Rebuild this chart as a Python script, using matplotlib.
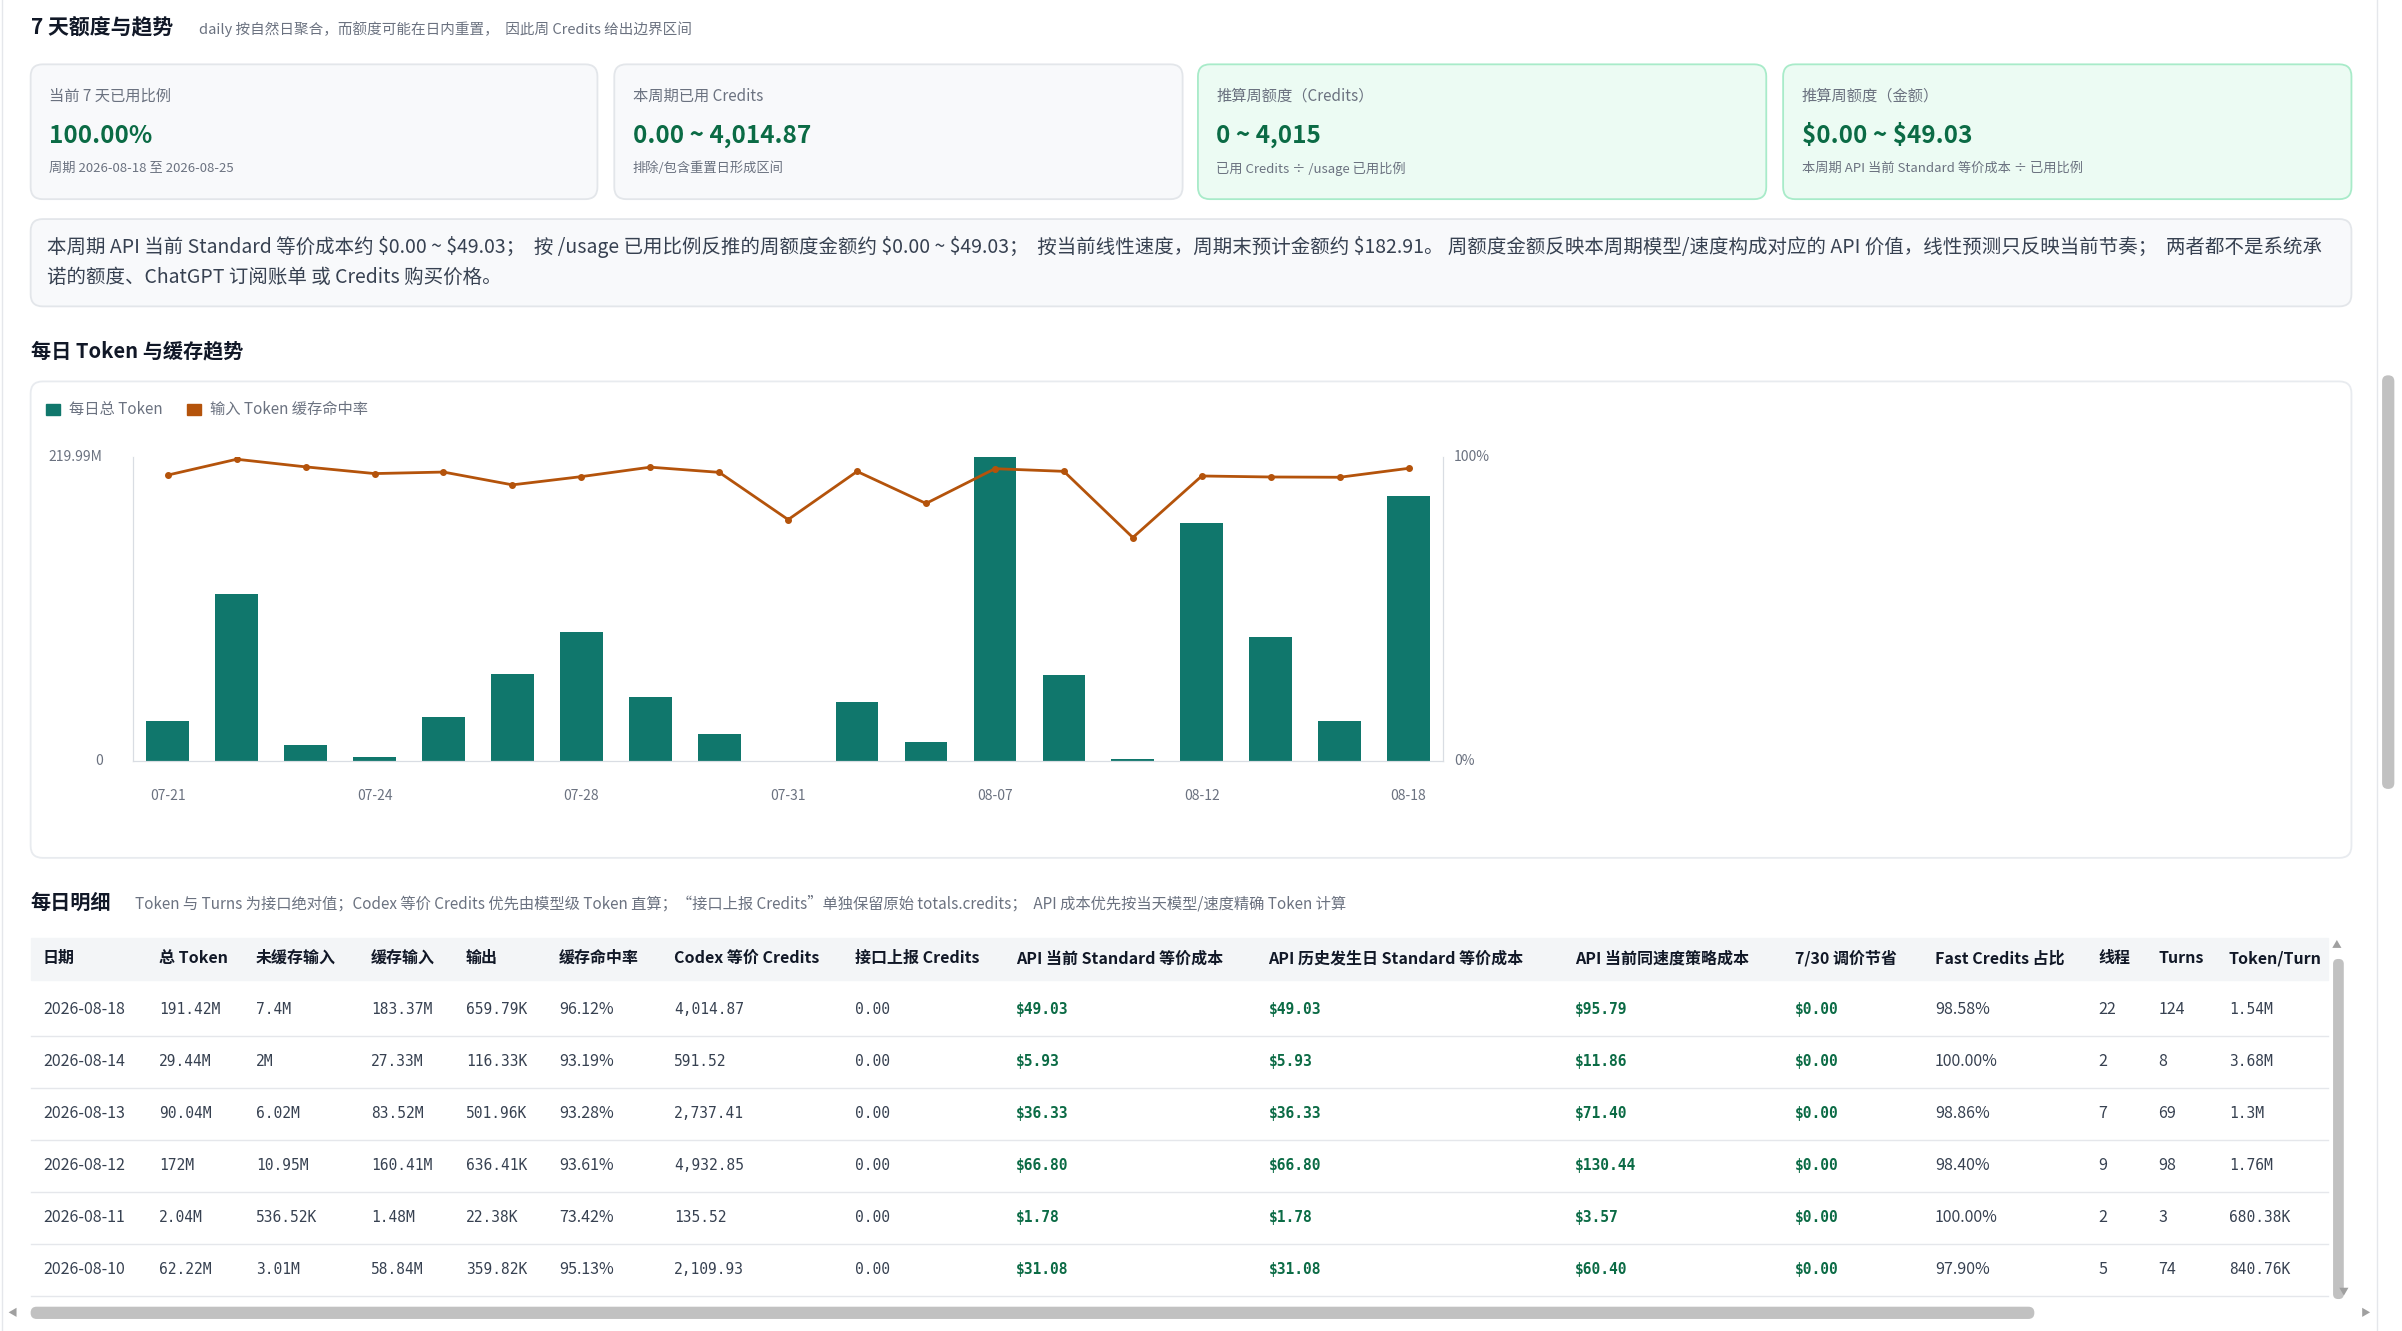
import matplotlib
matplotlib.use('Agg')
import matplotlib.pyplot as plt
from matplotlib.patches import FancyBboxPatch, Rectangle

plt.rcParams['font.family'] = ['Noto Sans CJK SC', 'DejaVu Sans']
plt.rcParams['text.parse_math'] = False

W, H = 2402, 1331

# 图表数据
dates = ['07-21', '07-22', '07-23', '07-24', '07-25', '07-26', '07-28', '07-29', '07-30', '07-31',
         '08-04', '08-06', '08-07', '08-10', '08-11', '08-12', '08-13', '08-14', '08-18']
tick_idx = [0, 3, 6, 9, 12, 15, 18]
total_tokens = [29.1, 120.6, 12.0, 3.1, 32.2, 62.9, 93.0, 46.4, 19.7, 0.5,
                42.7, 13.9, 219.99, 62.22, 2.04, 172.0, 90.04, 29.44, 191.42]
hit_rate = [93.9, 99.1, 96.6, 94.4, 94.9, 90.7, 93.4, 96.5, 94.8, 79.3,
            95.1, 84.6, 96.0, 95.13, 73.42, 93.61, 93.28, 93.19, 96.12]

# 卡片
card_titles = ['当前 7 天已用比例', '本周期已用 Credits', '推算周额度（Credits）', '推算周额度（金额）']
card_values = ['100.00%', '0.00 ~ 4,014.87', '0 ~ 4,015', '$0.00 ~ $49.03']
card_notes = ['周期 2026-08-18 至 2026-08-25', '排除/包含重置日形成区间',
              '已用 Credits ÷ /usage 已用比例', '本周期 API 当前 Standard 等价成本 ÷ 已用比例']

# 明细表
headers = ['日期', '总 Token', '未缓存输入', '缓存输入', '输出', '缓存命中率', 'Codex 等价 Credits',
           '接口上报 Credits', 'API 当前 Standard 等价成本', 'API 历史发生日 Standard 等价成本',
           'API 当前同速度策略成本', '7/30 调价节省', 'Fast Credits 占比', '线程', 'Turns', 'Token/Turn']
rows = [
    ['2026-08-18', '191.42M', '7.4M', '183.37M', '659.79K', '96.12%', '4,014.87', '0.00', '$49.03', '$49.03', '$95.79', '$0.00', '98.58%', '22', '124', '1.54M'],
    ['2026-08-14', '29.44M', '2M', '27.33M', '116.33K', '93.19%', '591.52', '0.00', '$5.93', '$5.93', '$11.86', '$0.00', '100.00%', '2', '8', '3.68M'],
    ['2026-08-13', '90.04M', '6.02M', '83.52M', '501.96K', '93.28%', '2,737.41', '0.00', '$36.33', '$36.33', '$71.40', '$0.00', '98.86%', '7', '69', '1.3M'],
    ['2026-08-12', '172M', '10.95M', '160.41M', '636.41K', '93.61%', '4,932.85', '0.00', '$66.80', '$66.80', '$130.44', '$0.00', '98.40%', '9', '98', '1.76M'],
    ['2026-08-11', '2.04M', '536.52K', '1.48M', '22.38K', '73.42%', '135.52', '0.00', '$1.78', '$1.78', '$3.57', '$0.00', '100.00%', '2', '3', '680.38K'],
    ['2026-08-10', '62.22M', '3.01M', '58.84M', '359.82K', '95.13%', '2,109.93', '0.00', '$31.08', '$31.08', '$60.40', '$0.00', '97.90%', '5', '74', '840.76K'],
]
col_x = [28, 104, 167, 242, 304, 365, 440, 558, 663, 828, 1028, 1172, 1263, 1370, 1409, 1455]
mono_cols = {1, 2, 3, 4, 6, 7, 8, 9, 10, 11, 15}
green_cols = {8, 9, 10, 11}

S = 2402 / 1568  # 截图坐标换算

fig = plt.figure(figsize=(W / 100, H / 100), dpi=100)
bg = fig.add_axes([0, 0, 1, 1])
bg.set_xlim(0, W)
bg.set_ylim(H, 0)
bg.axis('off')

DARK = '#111827'
GRAY = '#6b7280'
GREEN = '#0b6b45'


def box(x0, y0, x1, y1, fc, ec, r=12):
    bg.add_patch(FancyBboxPatch((x0 * S, y0 * S), (x1 - x0) * S, (y1 - y0) * S,
                                boxstyle=f'round,pad=0,rounding_size={r}', fc=fc, ec=ec, lw=1.3))


def txt(x, y, s, size=12, color=DARK, weight='normal', **kw):
    bg.text(x * S, y * S, s, fontsize=size, color=color, fontweight=weight, va='center', **kw)


# 标题
txt(20, 18, '7 天额度与趋势', 15, weight='bold')
txt(130, 19, 'daily 按自然日聚合，而额度可能在日内重置，  因此周 Credits 给出边界区间', 10.5, GRAY)

card_x = [(20, 390), (401, 772), (782, 1153), (1164, 1535)]
for i, (x0, x1) in enumerate(card_x):
    if i < 2:
        box(x0, 42, x1, 130, '#f8f9fb', '#e3e6ea')
    else:
        box(x0, 42, x1, 130, '#ecfbf3', '#a8ebc9')
    txt(x0 + 12, 63, card_titles[i], 11, GRAY)
    txt(x0 + 12, 89, card_values[i], 17.5, GREEN, 'heavy')
    txt(x0 + 12, 110, card_notes[i], 9.5, GRAY)

box(20, 143, 1535, 200, '#f8f9fb', '#e3e6ea')
txt(31, 161, '本周期 API 当前 Standard 等价成本约 $0.00 ~ $49.03；  按 /usage 已用比例反推的周额度金额约 $0.00 ~ $49.03；  '
    '按当前线性速度，周期末预计金额约 $182.91。 周额度金额反映本周期模型/速度构成对应的 API 价值，线性预测只反映当前节奏；  两者都不是系统承', 14, '#374151')
txt(31, 181, '诺的额度、ChatGPT 订阅账单 或 Credits 购买价格。', 14, '#374151')

# 图表部分
txt(20, 229, '每日 Token 与缓存趋势', 14.5, weight='bold')
box(20, 249, 1535, 560, 'white', '#e8ebef')
bg.add_patch(Rectangle((30 * S, 264 * S), 9 * S, 7 * S, color='#10776c'))
txt(45, 267.5, '每日总 Token', 11, GRAY)
bg.add_patch(Rectangle((122 * S, 264 * S), 9 * S, 7 * S, color='#b4530b'))
txt(137, 267.5, '输入 Token 缓存命中率', 11, GRAY)

ax = fig.add_axes([87 * S / W, 1 - 497 * S / H, (942 - 87) * S / W, (497 - 298) * S / H])
x = list(range(len(dates)))
ax.bar(x, total_tokens, width=0.62, color='#10776c')
ax.set_xlim(-0.5, len(dates) - 0.5)
ax.set_ylim(0, max(total_tokens))
ax.set_yticks([0, max(total_tokens)])
ax.set_yticklabels(['0', f'{max(total_tokens):.2f}M'])
ax.set_xticks(tick_idx)
ax.set_xticklabels([dates[i] for i in tick_idx])
ax2 = ax.twinx()
ax2.plot(x, hit_rate, color='#b4530b', lw=2, marker='o', ms=4)
ax2.set_ylim(0, 100)
ax2.set_yticks([0, 100])
ax2.set_yticklabels(['0%', '100%'])
for a in (ax, ax2):
    a.set_facecolor('none')
    a.spines['top'].set_visible(False)
    for s in ('left', 'right', 'bottom'):
        a.spines[s].set_color('#d9dde3')
    a.tick_params(length=0, labelsize=10, colors=GRAY)
ax.tick_params(axis='x', pad=20)
ax.tick_params(axis='y', pad=22)
ax2.tick_params(axis='y', pad=8)
for lbl in ax.get_yticklabels() + ax2.get_yticklabels():
    lbl.set_verticalalignment('center')

# 明细表
txt(20, 589, '每日明细', 14.5, weight='bold')
txt(88, 590, 'Token 与 Turns 为接口绝对值；Codex 等价 Credits 优先由模型级 Token 直算；“接口上报 Credits”单独保留原始 totals.credits；  '
    'API 成本优先按当天模型/速度精确 Token 计算', 11, GRAY)
bg.add_patch(Rectangle((20 * S, 612 * S), 1500 * S, 28 * S, color='#f3f5f7'))
for c, h in zip(col_x, headers):
    txt(c, 625.5, h, 11.5, weight='bold')
for r, row in enumerate(rows):
    y = 659 + 34 * r
    bg.plot([20 * S, 1520 * S], [(y + 17) * S] * 2, color='#e5e7eb', lw=1)
    for j, (c, v) in enumerate(zip(col_x, row)):
        if j in green_cols:
            txt(c, y, v, 10.5, GREEN, 'bold', family='DejaVu Sans Mono')
        elif j in mono_cols:
            txt(c, y, v, 10.5, '#374151', family='DejaVu Sans Mono')
        else:
            txt(c, y, v, 11.5, '#374151')

# 滚动条
bg.add_patch(FancyBboxPatch((20 * S, 853 * S), 1308 * S, 8 * S, boxstyle='round,pad=0,rounding_size=6',
                            fc='#c1c1c1', ec='none'))
bg.add_patch(FancyBboxPatch((1523 * S, 626 * S), 7 * S, 222 * S, boxstyle='round,pad=0,rounding_size=5',
                            fc='#c1c1c1', ec='none'))
bg.add_patch(FancyBboxPatch((1555 * S, 245 * S), 8 * S, 270 * S, boxstyle='round,pad=0,rounding_size=6',
                            fc='#c1c1c1', ec='none'))
bg.plot([1552 * S, 1552 * S], [0, H], color='#e5e7eb', lw=1)
bg.plot([1 * S, 1 * S], [0, H], color='#e5e7eb', lw=1)
txt(5, 857, '◀', 7, '#a0a0a0')
txt(1541, 857, '▶', 7, '#a0a0a0')
txt(1522, 616, '▲', 7, '#a0a0a0')
txt(1527, 843, '▼', 7, '#a0a0a0')

fig.savefig('out.png', dpi=100, facecolor='white')
